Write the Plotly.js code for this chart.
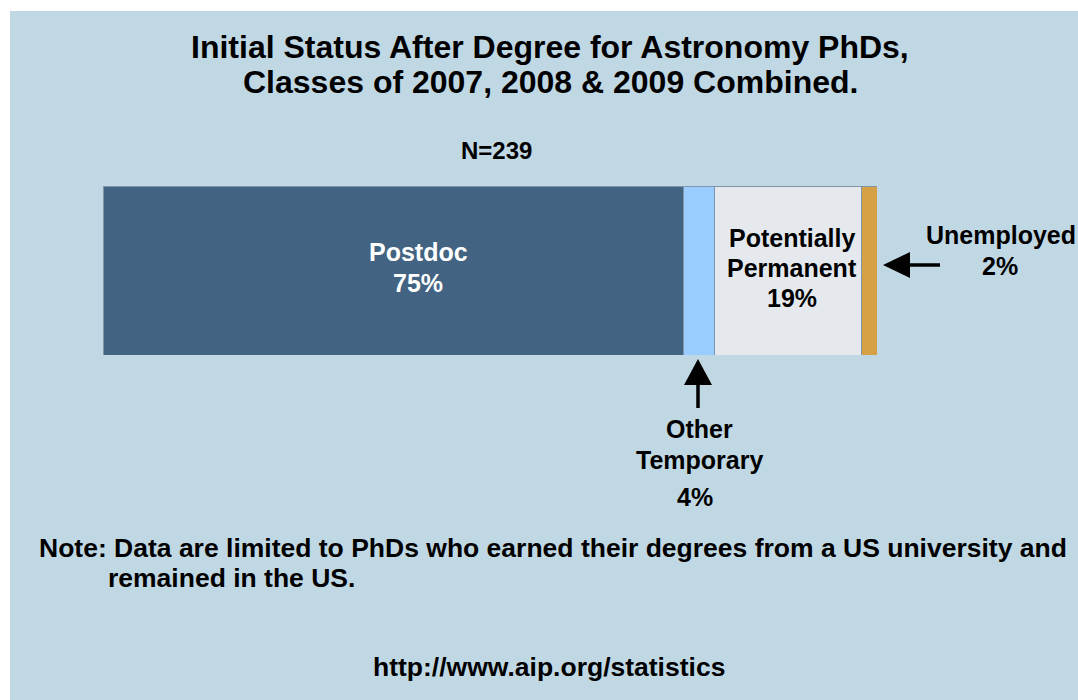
<!DOCTYPE html>
<html>
<head>
<meta charset="utf-8">
<script src="https://cdn.plot.ly/plotly-3.0.1.min.js"></script>
<style>
  html, body { margin: 0; padding: 0; background: #ffffff; }
  #chart { width: 1078px; height: 700px; }
</style>
</head>
<body>
<div id="chart"></div>
<script>
// data
var categories = ['Postdoc', 'Other Temporary', 'Potentially Permanent', 'Unemployed'];
var shares = [75, 4, 19, 2];
var sampleSize = 239;
var titleLines = ['Initial Status After Degree for Astronomy PhDs,', 'Classes of 2007, 2008 & 2009 Combined.'];
var noteLines = ['Note: Data are limited to PhDs who earned their degrees from a US university and', 'remained in the US.'];
var sourceUrl = 'http://www.aip.org/statistics';

var barColors = ['#426381', '#99ccff', '#e5e9ee', '#d6a045'];
var fontFamily = 'Liberation Sans, Arial, sans-serif';

// plot area = the bar itself, in pixels
var L = 103, R = 877, T = 186, B = 355;
function px(x) { return (x - L) / (R - L); }
function py(y) { return (B - y) / (B - T); }

var traces = categories.map(function (c, i) {
    return {
        type: 'bar',
        orientation: 'h',
        name: c,
        y: ['all'],
        x: [shares[i]],
        width: 1,
        marker: { color: barColors[i], line: { color: '#8096aa', width: 1 } },
        hoverinfo: 'none'
    };
});

function label(text, x, y, size, color, anchor) {
    return {
        xref: 'paper', yref: 'paper',
        x: px(x), y: py(y),
        xanchor: anchor || 'center', yanchor: 'middle',
        text: text, showarrow: false,
        font: { family: fontFamily, size: size, color: color || '#000', weight: 'bold' }
    };
}

// where each category label sits (x centre, y of each line)
var labelSpots = [
    { xs: [418, 418], ys: [252, 283], color: '#ffffff' },
    { xs: [699, 699, 695], ys: [429, 460, 497], color: '#000000' },
    { xs: [792, 792, 792], ys: [238, 268, 298], color: '#000000' },
    { xs: [1001, 1000], ys: [235, 266], color: '#000000' }
];

var annotations = [
    label(titleLines[0], 550, 47, 32),
    label(titleLines[1], 550, 82, 32),
    label('N=' + sampleSize, 496, 150, 24),
    label(noteLines[0], 37, 548, 26.5, '#000', 'left'),
    label(noteLines[1], 106, 578, 26.5, '#000', 'left'),
    label(sourceUrl, 549, 667, 26.5)
];

categories.forEach(function (c, i) {
    var lines = (c === 'Postdoc' || c === 'Unemployed') ? [c] : c.split(' ');
    lines = lines.concat([shares[i] + '%']);
    var spot = labelSpots[i];
    lines.forEach(function (t, k) {
        annotations.push(label(t, spot.xs[k], spot.ys[k], 25, spot.color));
    });
});

var shapes = [
    // light blue panel
    { type: 'rect', xref: 'paper', yref: 'paper', layer: 'below',
      x0: px(10), x1: px(1078), y0: py(700), y1: py(11),
      fillcolor: '#c0d8e4', line: { width: 0 } },
    // arrow up to Other Temporary
    { type: 'line', xref: 'paper', yref: 'paper',
      x0: px(698), x1: px(698), y0: py(383), y1: py(408),
      line: { color: '#000', width: 3.5 } },
    { type: 'path', xref: 'paper', yref: 'paper',
      path: 'M ' + px(684) + ',' + py(385) + ' L ' + px(712) + ',' + py(385) + ' L ' + px(698) + ',' + py(359) + ' Z',
      fillcolor: '#000', line: { width: 0 } },
    // arrow left to Unemployed
    { type: 'line', xref: 'paper', yref: 'paper',
      x0: px(908), x1: px(940), y0: py(265), y1: py(265),
      line: { color: '#000', width: 3.5 } },
    { type: 'path', xref: 'paper', yref: 'paper',
      path: 'M ' + px(910) + ',' + py(252) + ' L ' + px(910) + ',' + py(278) + ' L ' + px(883) + ',' + py(265) + ' Z',
      fillcolor: '#000', line: { width: 0 } }
];

var layout = {
    width: 1078,
    height: 700,
    margin: { l: L, r: 1078 - R, t: T, b: 700 - B, pad: 0 },
    paper_bgcolor: '#ffffff',
    plot_bgcolor: 'rgba(0,0,0,0)',
    barmode: 'stack',
    showlegend: false,
    xaxis: { range: [0, 100], visible: false, fixedrange: true },
    yaxis: { range: [-0.5, 0.5], visible: false, fixedrange: true },
    shapes: shapes,
    annotations: annotations
};

Plotly.newPlot('chart', traces, layout, { displayModeBar: false, staticPlot: true });
</script>
</body>
</html>
